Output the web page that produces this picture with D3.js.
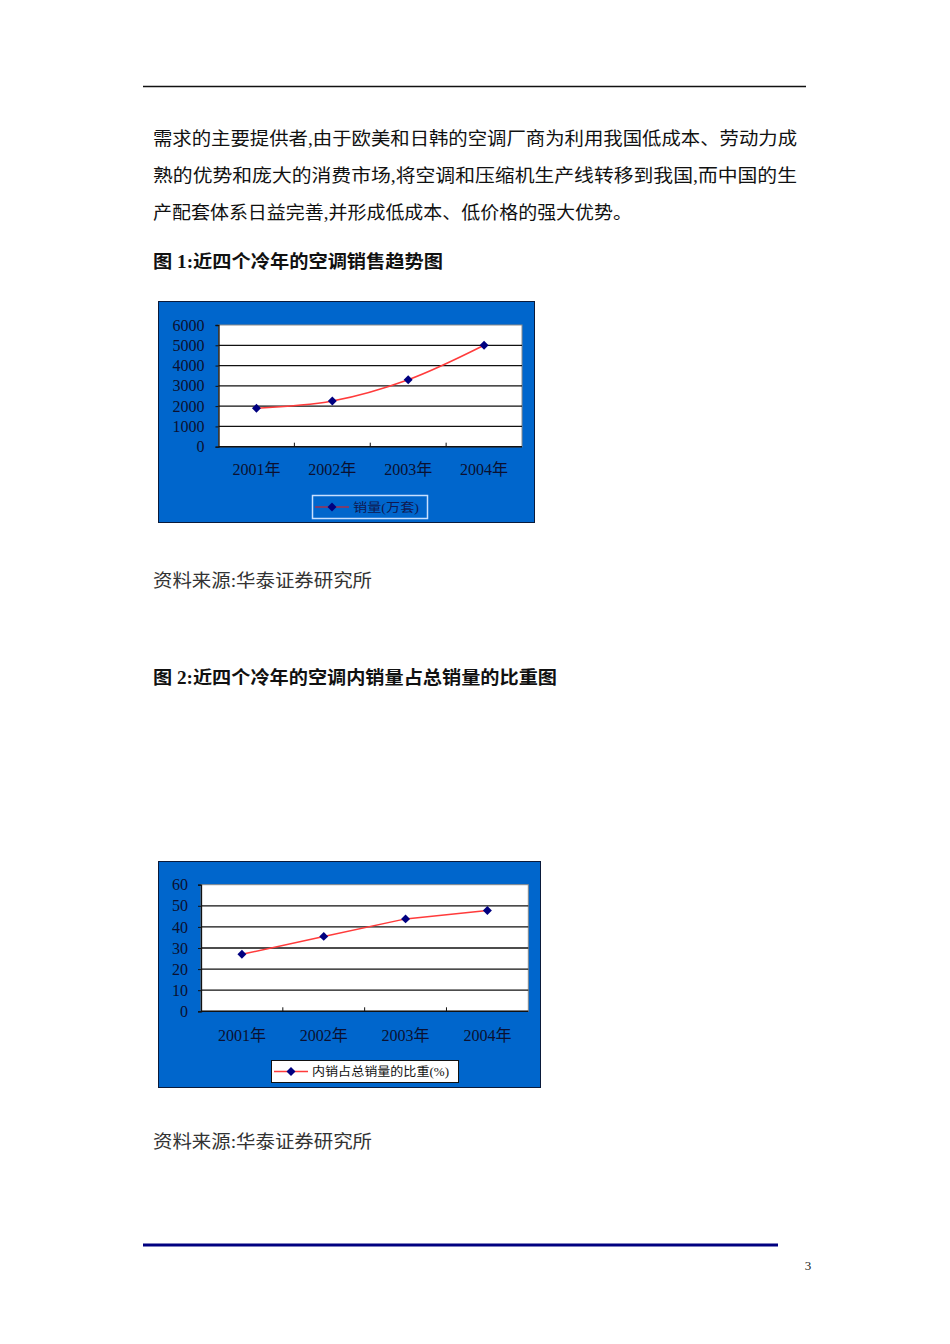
<!DOCTYPE html>
<html>
<head>
<meta charset="utf-8">
<script src="https://cdn.jsdelivr.net/npm/d3@7"></script>
<style>
  html, body { margin: 0; padding: 0; background: #fff; }
  svg { display: block; }
</style>
</head>
<body>
<div id="page"></div>
<script>
// chart data
var years = ["2001年", "2002年", "2003年", "2004年"];
var salesValues = [1900, 2250, 3300, 5000];
var salesTicks = [0, 1000, 2000, 3000, 4000, 5000, 6000];
var salesLegend = "销量(万套)";
var shareValues = [27, 35.5, 43.8, 47.8];
var shareTicks = [0, 10, 20, 30, 40, 50, 60];
var shareLegend = "内销占总销量的比重(%)";

// page text
var bodyLines = [
  "需求的主要提供者,由于欧美和日韩的空调厂商为利用我国低成本、劳动力成",
  "熟的优势和庞大的消费市场,将空调和压缩机生产线转移到我国,而中国的生",
  "产配套体系日益完善,并形成低成本、低价格的强大优势。"
];
var title1 = "图 1:近四个冷年的空调销售趋势图";
var title2 = "图 2:近四个冷年的空调内销量占总销量的比重图";
var sourceText = "资料来源:华泰证券研究所";

var fontCN = "'Liberation Serif', 'Noto Sans CJK SC', serif";
var blue = "#0066cc";

var svg = d3.select("#page").append("svg")
    .attr("width", 950)
    .attr("height", 1344);

// header rule
svg.append("line")
    .attr("x1", 143).attr("x2", 806)
    .attr("y1", 86.5).attr("y2", 86.5)
    .attr("stroke", "#111").attr("stroke-width", 1.5);

function pageText(txt, x, y, width, opts) {
    opts = opts || {};
    svg.append("text")
        .attr("x", x).attr("y", y)
        .attr("textLength", width)
        .attr("lengthAdjust", "spacingAndGlyphs")
        .attr("font-family", fontCN)
        .attr("font-size", opts.size || 18)
        .attr("font-weight", opts.bold ? "bold" : "normal")
        .attr("fill", opts.color || "#111")
        .text(txt);
}

pageText(bodyLines[0], 153, 145, 644);
pageText(bodyLines[1], 153, 182, 644);
pageText(bodyLines[2], 153, 219, 479);
pageText(title1, 153, 268, 290, {bold: true});
pageText(sourceText, 153, 587, 219, {color: "#333"});
pageText(title2, 153, 684, 404, {bold: true});
pageText(sourceText, 153, 1148, 219, {color: "#333"});

// footer
svg.append("line")
    .attr("x1", 143).attr("x2", 778)
    .attr("y1", 1245).attr("y2", 1245)
    .attr("stroke", "#000080").attr("stroke-width", 3);
svg.append("text")
    .attr("x", 808).attr("y", 1270)
    .attr("text-anchor", "middle")
    .attr("font-family", "'Liberation Serif', serif")
    .attr("font-size", 13)
    .attr("fill", "#222")
    .text("3");

// square turned 45 degrees, like the excel marker
var marker = d3.symbol().type(d3.symbolSquare).size(40);

function lineChart(cfg) {
    var g = svg.append("g");

    // blue frame
    g.append("rect")
        .attr("x", cfg.box[0] + 0.5).attr("y", cfg.box[1] + 0.5)
        .attr("width", cfg.box[2]).attr("height", cfg.box[3])
        .attr("fill", blue)
        .attr("stroke", "#0a1a3a");

    var x = d3.scaleBand()
        .domain(cfg.categories)
        .range([cfg.plot[0], cfg.plot[2]]);
    var y = d3.scaleLinear()
        .domain([0, d3.max(cfg.ticks)])
        .range([cfg.plot[3], cfg.plot[1]]);

    // plot area
    g.append("rect")
        .attr("x", cfg.plot[0]).attr("y", cfg.plot[1])
        .attr("width", cfg.plot[2] - cfg.plot[0])
        .attr("height", cfg.plot[3] - cfg.plot[1])
        .attr("fill", "#fff")
        .attr("stroke", "#8a8a8a");

    // gridlines
    g.selectAll(".grid")
        .data(cfg.ticks.filter(function(d){ return d > 0 && d < d3.max(cfg.ticks); }))
        .enter().append("line")
        .attr("x1", cfg.plot[0]).attr("x2", cfg.plot[2])
        .attr("y1", function(d){ return y(d); })
        .attr("y2", function(d){ return y(d); })
        .attr("stroke", "#111")
        .attr("stroke-width", 1.3);

    // y axis
    var yAxis = d3.axisLeft(y)
        .tickValues(cfg.ticks)
        .tickFormat(d3.format("d"))
        .tickSize(3)
        .tickPadding(cfg.yPad);
    var ya = g.append("g")
        .attr("transform", "translate(" + cfg.plot[0] + ",0)")
        .call(yAxis);
    ya.select(".domain").attr("stroke", "#111").attr("stroke-width", 1.3);
    ya.selectAll(".tick line").attr("stroke", "#111");
    ya.selectAll("text")
        .attr("font-family", "'Liberation Serif', serif")
        .attr("font-size", 16)
        .attr("fill", "#0b1030");

    // x axis, ticks inward at category borders
    var xa = g.append("g");
    xa.append("line")
        .attr("x1", cfg.plot[0]).attr("x2", cfg.plot[2])
        .attr("y1", cfg.plot[3]).attr("y2", cfg.plot[3])
        .attr("stroke", "#111").attr("stroke-width", 1.5);
    xa.selectAll(".xt")
        .data(cfg.categories.slice(1))
        .enter().append("line")
        .attr("x1", function(d){ return x(d); })
        .attr("x2", function(d){ return x(d); })
        .attr("y1", cfg.plot[3]).attr("y2", cfg.plot[3] - 4)
        .attr("stroke", "#111");
    xa.selectAll(".xl")
        .data(cfg.categories)
        .enter().append("text")
        .attr("x", function(d){ return x(d) + x.bandwidth() / 2; })
        .attr("y", cfg.xLabelY)
        .attr("text-anchor", "middle")
        .attr("font-family", fontCN)
        .attr("font-size", 16)
        .attr("fill", "#0b1030")
        .text(function(d){ return d; });

    // series
    var pts = cfg.values.map(function(v, i){
        return [x(cfg.categories[i]) + x.bandwidth() / 2, y(v)];
    });
    g.append("path")
        .attr("d", d3.line().curve(cfg.curve)(pts))
        .attr("fill", "none")
        .attr("stroke", "#ff3b3b")
        .attr("stroke-width", 1.5);
    g.selectAll(".pt")
        .data(pts)
        .enter().append("path")
        .attr("transform", function(d){ return "translate(" + d[0] + "," + d[1] + ") rotate(45)"; })
        .attr("d", marker)
        .attr("fill", "#000080");

    // legend
    var L = cfg.legend;
    g.append("rect")
        .attr("x", L.x + 0.5).attr("y", L.y + 0.5)
        .attr("width", L.w).attr("height", L.h)
        .attr("fill", L.fill)
        .attr("stroke", L.stroke)
        .attr("stroke-width", L.strokeWidth);
    var cy = L.y + L.h / 2 + 0.5;
    g.append("line")
        .attr("x1", L.x + 3).attr("x2", L.x + 37)
        .attr("y1", cy).attr("y2", cy)
        .attr("stroke", L.lineColor).attr("stroke-width", 1.5);
    g.append("path")
        .attr("transform", "translate(" + (L.x + 20) + "," + cy + ") rotate(45)")
        .attr("d", marker)
        .attr("fill", "#000080");
    g.append("text")
        .attr("x", L.x + 41).attr("y", cy + 4.5)
        .attr("textLength", L.textW)
        .attr("lengthAdjust", "spacingAndGlyphs")
        .attr("font-family", fontCN)
        .attr("font-size", 12)
        .attr("fill", L.textColor)
        .text(L.text);
}

lineChart({
    box: [158, 301, 376, 221],
    plot: [218.5, 325, 522, 446.7],
    categories: years,
    values: salesValues,
    ticks: salesTicks,
    yPad: 11,
    xLabelY: 475,
    curve: d3.curveCatmullRom,
    legend: {x: 312, y: 495, w: 115, h: 23, fill: blue, stroke: "#c8e0ff", strokeWidth: 1.5,
             lineColor: "#a03050", textColor: "#101850", text: salesLegend, textW: 66}
});

lineChart({
    box: [158, 861, 382, 226],
    plot: [201, 884.7, 528.3, 1011.3],
    categories: years,
    values: shareValues,
    ticks: shareTicks,
    yPad: 10,
    xLabelY: 1041,
    curve: d3.curveLinear,
    legend: {x: 271, y: 1060, w: 187, h: 22, fill: "#fff", stroke: "#111", strokeWidth: 1,
             lineColor: "#ff3b3b", textColor: "#111", text: shareLegend, textW: 137}
});
</script>
</body>
</html>
